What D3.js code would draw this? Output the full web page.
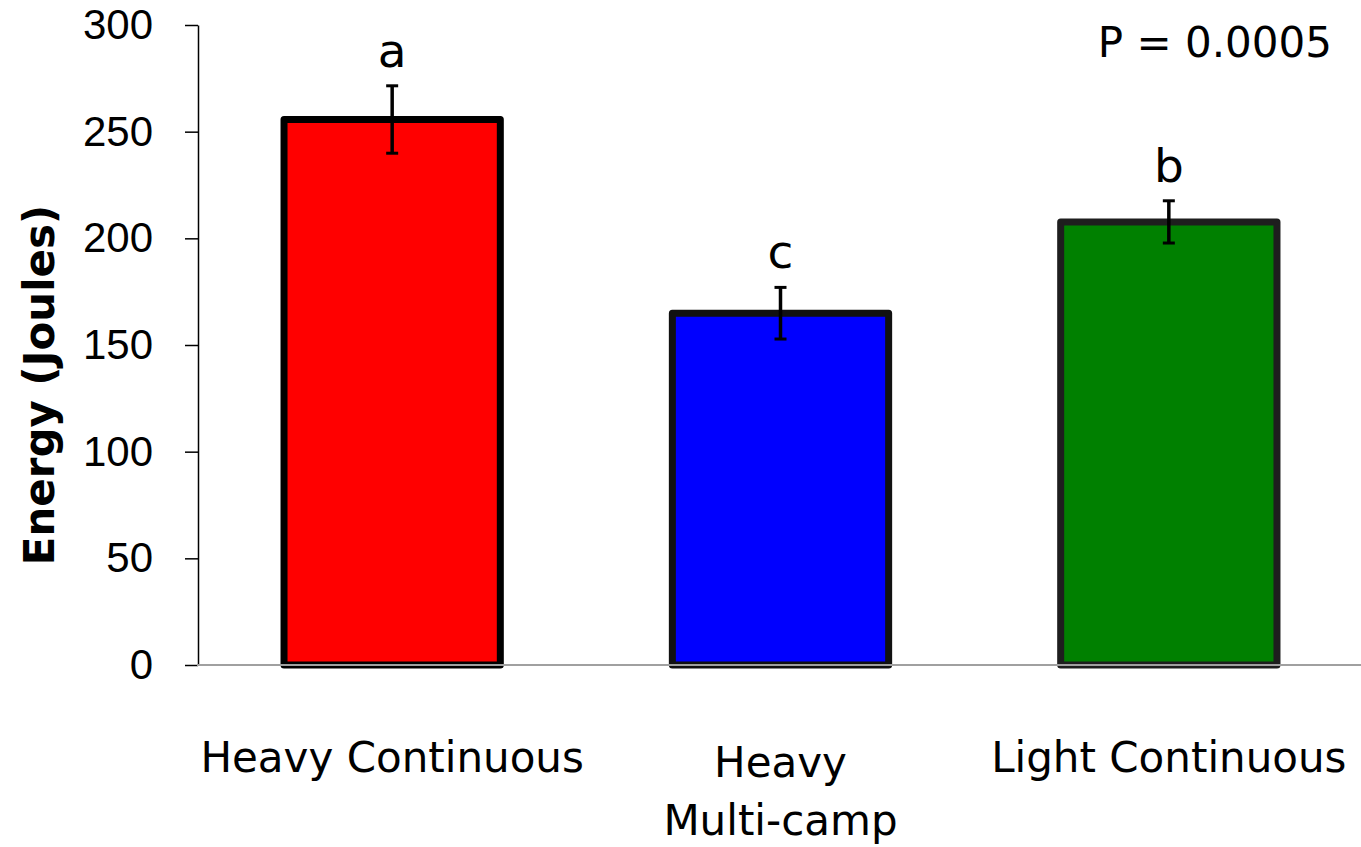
<!DOCTYPE html>
<html>
<head>
<meta charset="utf-8">
<script src="https://cdn.jsdelivr.net/npm/d3@7"></script>
<style>
  body { margin: 0; background: #fff; }
  .comic { font-family: "Comic Sans MS", "DejaVu Sans", sans-serif; }
  .tick text { font-family: "Liberation Sans", "Open Sans", sans-serif; }
</style>
</head>
<body>
<div id="graphic"></div>
<script>
var groups = ["Heavy Continuous", "Heavy Multi-camp", "Light Continuous"];
var groupLines = [["Heavy Continuous"], ["Heavy", "Multi-camp"], ["Light Continuous"]];
var energy = [255.7, 164.9, 207.7];
var stdErr = [15.8, 12.1, 9.9];
var letters = ["a", "c", "b"];
var fills = ["#ff0000", "#0000ff", "#008000"];
var strokes = ["#000000", "#111111", "#1e1e1e"];
var yTicks = [0, 50, 100, 150, 200, 250, 300];

var width = 1361, height = 847;

var svg = d3.select("#graphic").append("svg")
    .attr("width", width)
    .attr("height", height);

// plot area in page pixels
var x = d3.scaleBand()
    .domain(groups)
    .range([198, 1363])
    .paddingInner(0.443)
    .paddingOuter(0.2215);

var y = d3.scaleLinear()
    .domain([0, 300])
    .range([665, 25]);

// y axis
var yAxis = d3.axisLeft(y)
    .tickValues(yTicks)
    .tickSize(13)
    .tickSizeOuter(0)
    .tickPadding(32);

var gy = svg.append("g")
    .attr("transform", "translate(198,0)")
    .call(yAxis);
gy.select(".domain").attr("stroke", "#000").attr("stroke-width", 1.5);
gy.selectAll(".tick line").attr("stroke", "#000").attr("stroke-width", 1.5);
gy.selectAll(".tick text").attr("font-size", 42).attr("fill", "#000");

// bars
var bars = svg.selectAll(".bar")
    .data(groups)
    .enter()
    .append("g")
    .attr("class", "bar");

bars.append("rect")
    .attr("x", d => x(d))
    .attr("width", x.bandwidth())
    .attr("y", (d, i) => y(energy[i]))
    .attr("height", (d, i) => y(0) - y(energy[i]))
    .attr("fill", (d, i) => fills[i])
    .attr("stroke", (d, i) => strokes[i])
    .attr("stroke-width", 7)
    .attr("stroke-linejoin", "round");

// error bars
var cx = d => x(d) + x.bandwidth() / 2;
bars.append("line")
    .attr("x1", cx).attr("x2", cx)
    .attr("y1", (d, i) => y(energy[i] + stdErr[i]))
    .attr("y2", (d, i) => y(energy[i] - stdErr[i]))
    .attr("stroke", "#000").attr("stroke-width", 3.5);

[1, -1].forEach(function (s) {
    bars.append("line")
        .attr("x1", d => cx(d) - 6).attr("x2", d => cx(d) + 6)
        .attr("y1", (d, i) => y(energy[i] + s * stdErr[i]))
        .attr("y2", (d, i) => y(energy[i] + s * stdErr[i]))
        .attr("stroke", "#000").attr("stroke-width", 3);
});

// significance letters
bars.append("text")
    .attr("class", "comic")
    .attr("x", cx)
    .attr("y", (d, i) => y(energy[i] + stdErr[i]) - 19)
    .attr("text-anchor", "middle")
    .attr("font-size", 47)
    .text((d, i) => letters[i]);

// x axis line, drawn over the bar bottoms
svg.append("line")
    .attr("x1", 197).attr("x2", width)
    .attr("y1", y(0)).attr("y2", y(0))
    .attr("stroke", "#a0a0a0").attr("stroke-width", 2);

// category labels
groupLines.forEach(function (lines, i) {
    var base = lines.length > 1 ? y(0) + 112 : y(0) + 107;
    lines.forEach(function (t, j) {
        svg.append("text")
            .attr("class", "comic")
            .attr("x", cx(groups[i]))
            .attr("y", base + j * 58)
            .attr("text-anchor", "middle")
            .attr("font-size", 42)
            .text(t);
    });
});

// y title
svg.append("text")
    .attr("class", "comic")
    .attr("transform", "translate(54,385) rotate(-90)")
    .attr("text-anchor", "middle")
    .attr("font-size", 42)
    .attr("font-weight", "bold")
    .text("Energy (Joules)");

// p value
svg.append("text")
    .attr("class", "comic")
    .attr("x", 1332)
    .attr("y", 57)
    .attr("text-anchor", "end")
    .attr("font-size", 42)
    .text("P = 0.0005");
</script>
</body>
</html>
